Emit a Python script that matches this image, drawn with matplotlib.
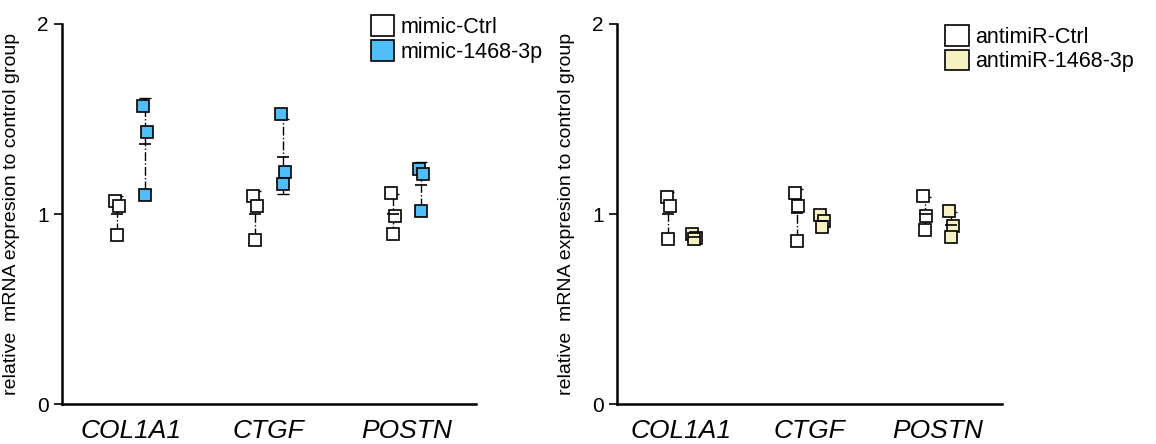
import matplotlib
matplotlib.use("Agg")
import matplotlib.pyplot as plt
import numpy as np
from matplotlib.patches import Patch

plt.rcParams["font.family"] = ["Liberation Sans", "DejaVu Sans"]

genes = ["COL1A1", "CTGF", "POSTN"]

# relative mRNA expression, three replicates per gene
mimic_ctrl = [[1.07, 1.04, 0.89], [1.095, 1.04, 0.863], [1.11, 0.99, 0.895]]
mimic_1468 = [[1.57, 1.43, 1.10], [1.526, 1.22, 1.16], [1.235, 1.21, 1.017]]
anti_ctrl = [[1.09, 1.04, 0.87], [1.11, 1.04, 0.86], [1.095, 0.99, 0.916]]
anti_1468 = [[0.895, 0.875, 0.87], [0.995, 0.963, 0.93], [1.016, 0.937, 0.88]]

blue = "#4FBEF8"
yellow = "#F6F1C2"
ylabel = "relative  mRNA expresion to control group"

# small horizontal scatter of the squares
jit_ctrl = [-0.012, 0.012, 0.0]
jit_trt = [-0.015, 0.015, 0.0]


def panel(ax, ctrl, trt, color):
    x = np.arange(1, len(genes) + 1)
    for i in range(len(genes)):
        for vals, xc, fc, jit in [(ctrl[i], x[i] - 0.1, "white", jit_ctrl),
                                  (trt[i], x[i] + 0.1, color, jit_trt)]:
            vals = np.array(vals)
            m, sd = vals.mean(), vals.std(ddof=1)
            eb = ax.errorbar(xc, m, yerr=sd, fmt="none", ecolor="k",
                             elinewidth=1, capsize=4, capthick=1, zorder=1)
            eb[2][0].set_linestyle("-.")
            ax.plot(xc + np.array(jit), vals, "s", ms=8.5, mfc=fc, mec="k",
                    mew=1.2, zorder=3)
            ax.plot(xc, m, "_", ms=8, mec="k", mew=1.2, zorder=4)
    ax.set_xlim(0.5, 3.5)
    ax.set_ylim(0, 2)
    ax.set_yticks([0, 1, 2])
    ax.set_xticks(x)
    ax.set_xticklabels(genes, fontsize=19, style="italic")
    ax.tick_params(axis="x", length=0, pad=11)
    ax.tick_params(axis="y", labelsize=15, length=6, width=1.2)
    ax.spines[["top", "right"]].set_visible(False)
    ax.spines[["left", "bottom"]].set_linewidth(1.8)
    ax.set_ylabel(ylabel, fontsize=14, labelpad=12)
    return [Patch(facecolor="white", edgecolor="k", linewidth=1.2),
            Patch(facecolor=color, edgecolor="k", linewidth=1.2)]


fig = plt.figure(figsize=(11.56, 4.44), dpi=100)
ax1 = fig.add_axes([0.0536, 0.090, 0.358, 0.856])
ax2 = fig.add_axes([0.5337, 0.090, 0.333, 0.856])

h1 = panel(ax1, mimic_ctrl, mimic_1468, blue)
ax1.legend(h1, ["mimic-Ctrl", "mimic-1468-3p"], loc="upper left",
           bbox_to_anchor=(0.725, 1.045), frameon=False, fontsize=15.5,
           handlelength=1.1, handleheight=1.1, handletextpad=0.3,
           labelspacing=0.1, borderaxespad=0)

h2 = panel(ax2, anti_ctrl, anti_1468, yellow)
ax2.legend(h2, ["antimiR-Ctrl", "antimiR-1468-3p"], loc="upper left",
           bbox_to_anchor=(0.83, 1.02), frameon=False, fontsize=15.5,
           handlelength=1.1, handleheight=1.1, handletextpad=0.3,
           labelspacing=0.1, borderaxespad=0)

fig.savefig("out.png", dpi=100)
